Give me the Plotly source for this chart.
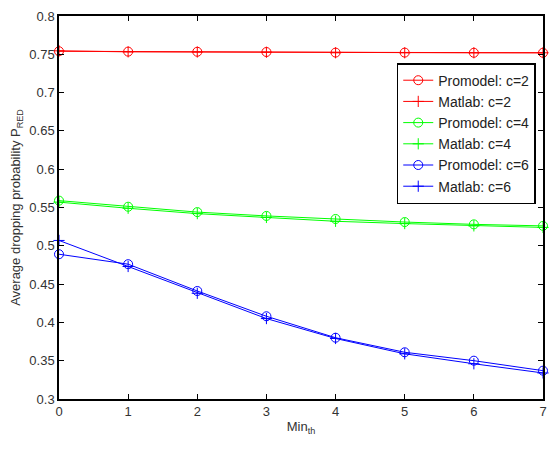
import plotly.graph_objects as go

x = [0, 1, 2, 3, 4, 5, 6, 7]
promodel_c2 = [0.754, 0.7535, 0.7533, 0.753, 0.7522, 0.7522, 0.752, 0.752]
matlab_c2 = [0.7545, 0.7532, 0.753, 0.7527, 0.752, 0.752, 0.752, 0.752]
promodel_c4 = [0.559, 0.551, 0.544, 0.539, 0.535, 0.531, 0.528, 0.526]
matlab_c4 = [0.557, 0.549, 0.542, 0.537, 0.532, 0.529, 0.526, 0.524]
promodel_c6 = [0.489, 0.476, 0.441, 0.408, 0.380, 0.361, 0.350, 0.337]
matlab_c6 = [0.507, 0.473, 0.438, 0.405, 0.379, 0.359, 0.346, 0.334]

series = [
    ("Promodel: c=2", promodel_c2, "#ff0000", "circle-open", 9),
    ("Matlab: c=2", matlab_c2, "#ff0000", "cross-thin-open", 8),
    ("Promodel: c=4", promodel_c4, "#00ff00", "circle-open", 9),
    ("Matlab: c=4", matlab_c4, "#00ff00", "cross-thin-open", 8),
    ("Promodel: c=6", promodel_c6, "#0000ff", "circle-open", 9),
    ("Matlab: c=6", matlab_c6, "#0000ff", "cross-thin-open", 8),
]

FONT = "Liberation Sans, Arial, sans-serif"

fig = go.Figure()
for name, ys, col, sym, sz in series:
    fig.add_trace(go.Scatter(
        x=x, y=ys, name=name, mode="lines+markers",
        line=dict(color=col, width=1),
        marker=dict(symbol=sym, size=sz, color=col, line=dict(color=col, width=1)),
        cliponaxis=False,
    ))

axis_common = dict(
    showline=True, linecolor="black", linewidth=1.5, mirror="ticks",
    ticks="inside", ticklen=5, tickcolor="black", showgrid=False, zeroline=False,
    tickfont=dict(family=FONT, size=13, color="#333"),
)

fig.update_layout(
    width=556, height=449,
    margin=dict(l=59, r=9, t=15, b=50),
    paper_bgcolor="white", plot_bgcolor="white",
    font=dict(family=FONT, size=13, color="#333"),
    xaxis=dict(range=[0, 7], tickvals=x,
               title=dict(text="Min<sub>th</sub>", standoff=4, font=dict(size=13)),
               **axis_common),
    yaxis=dict(range=[0.3, 0.8], dtick=0.05, tickformat="~g",
               title=dict(text="Average dropping probability P<sub>RED</sub>", standoff=6, font=dict(size=13)),
               **axis_common),
    legend=dict(x=0.985, y=0.877, xanchor="right", yanchor="top",
                bordercolor="black", borderwidth=1.5, bgcolor="white",
                font=dict(size=14, color="#222"), tracegroupgap=0),
    showlegend=True,
)

fig.write_html("out.html")
